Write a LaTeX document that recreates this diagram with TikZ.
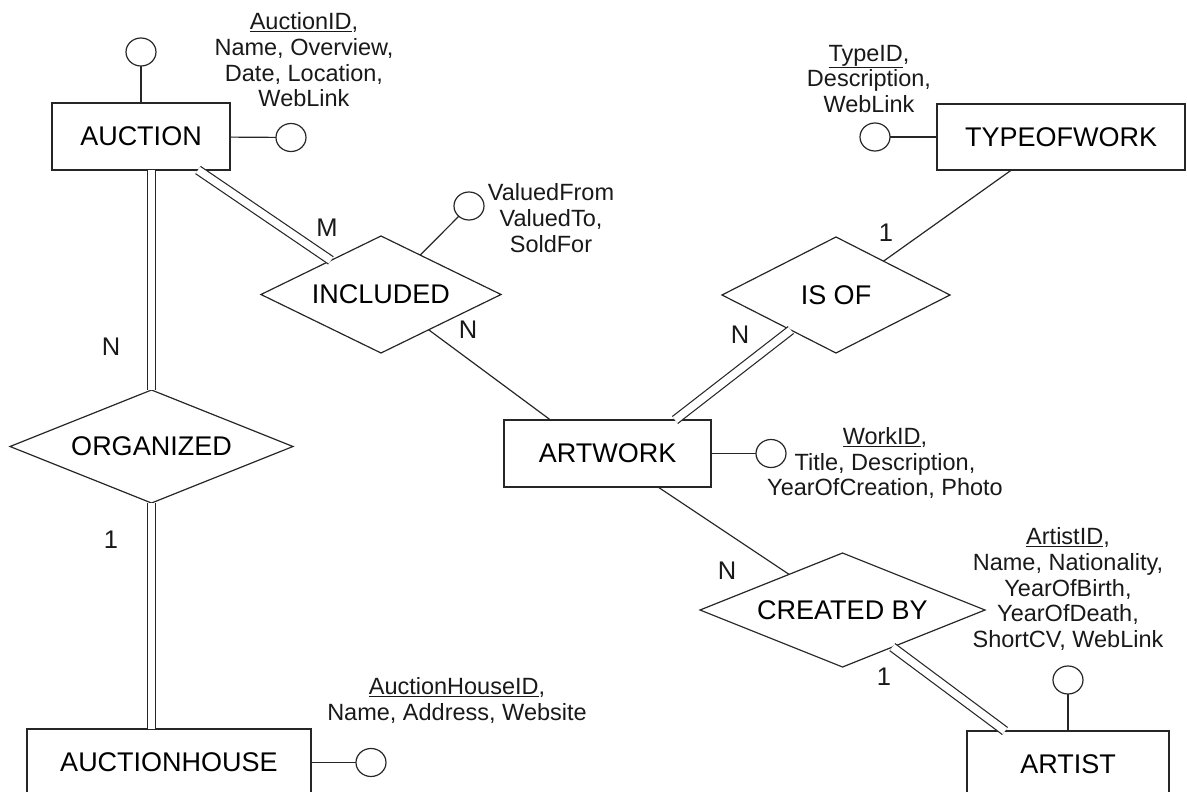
\documentclass[tikz,border=0pt]{standalone}
\usepackage{fontspec}
\setmainfont{Liberation Sans}
\usetikzlibrary{shapes.geometric}
\tikzset{
  ln/.style={line width=1.2pt, draw=black!85},
  dbl/.style={ln, double=white, double distance=7.5pt},
  ent/.style={ln, rectangle, inner sep=0pt, outer sep=0pt, font=\fontsize{27}{30}\selectfont},
  rel/.style={ln, diamond, aspect=2, inner sep=0pt, outer sep=0pt, font=\fontsize{27}{30}\selectfont},
  att/.style={ln, ellipse, inner sep=0pt, outer sep=0pt, minimum width=30pt, minimum height=28pt},
  atxt/.style={align=center, inner sep=0pt, font=\fontsize{23.5}{25.7}\selectfont, text=black!90},
  card/.style={inner sep=0pt, font=\fontsize{25.5}{28}\selectfont, text=black!90}
}
\begin{document}
\begin{tikzpicture}[x=1pt,y=-1pt]
\useasboundingbox (0,0) rectangle (1187,792);
\clip (0,0) rectangle (1187,792);
% entities
\node[ent, minimum width=178pt, minimum height=67pt] (auction) at (141,136.5) {AUCTION};
\node[ent, minimum width=248pt, minimum height=66pt] (typeofwork) at (1061,137) {TYPEOFWORK};
\node[ent, minimum width=207pt, minimum height=67pt] (artwork) at (607.5,453.5) {ARTWORK};
\node[ent, minimum width=284pt, minimum height=67pt] (auctionhouse) at (169,762.5) {AUCTIONHOUSE};
\node[ent, minimum width=202pt, minimum height=67pt] (artist) at (1068,764.5) {ARTIST};
% relationships
\node[rel, minimum width=240pt, minimum height=117pt] (included) at (381,294.5) {INCLUDED};
\node[rel, minimum width=228pt, minimum height=116pt] (isof) at (836,295) {IS OF};
\node[rel, minimum width=283pt, minimum height=113pt] (organized) at (151.5,446.5) {ORGANIZED};
\node[rel, minimum width=285pt, minimum height=114pt] (createdby) at (842.5,610) {CREATED BY};
% attribute circles
\node[att] (a1) at (141,52) {};
\node[att] (a2) at (291,137.5) {};
\node[att] (a3) at (875,137) {};
\node[att] (a4) at (469,206) {};
\node[att] (a5) at (771,453.5) {};
\node[att] (a6) at (371,762.5) {};
\node[att] (a7) at (1068,680) {};
% attribute texts
\node[atxt] (t1) at (304,60) {\underline{AuctionID},\\Name, Overview,\\Date, Location,\\WebLink};
\node[atxt] (t2) at (869,79) {\underline{TypeID},\\Description,\\WebLink};
\node[atxt] (t3) at (551,218) {ValuedFrom\\ValuedTo,\\SoldFor};
\node[atxt] (t4) at (885,463) {\underline{WorkID},\\Title, Description,\\YearOfCreation, Photo};
\node[atxt] (t5) at (1068,589) {\underline{ArtistID},\\Name, Nationality,\\YearOfBirth,\\YearOfDeath,\\ShortCV, WebLink};
\node[atxt] (t6) at (457,700.5) {\underline{AuctionHouseID},\\Name, Address, Website};
% attribute links
\draw[ln] (auction) -- (a1);
\draw[ln] (auction) -- (a2);
\draw[ln] (typeofwork) -- (a3);
\draw[ln] (included) -- (a4);
\draw[ln] (artwork) -- (a5);
\draw[ln] (auctionhouse) -- (a6);
\draw[ln] (artist) -- (a7);
% relationship links
\draw[dbl] (organized.north) -- (organized.north |- auction.south);
\draw[dbl] (organized.south) -- (organized.south |- auctionhouse.north);
\draw[dbl] ([xshift=57pt]auction.south) -- (included);
\draw[ln] (included) -- ([xshift=-57pt]artwork.north);
\draw[ln] ([xshift=-49.5pt]typeofwork.south) -- (isof);
\draw[dbl] (isof) -- ([xshift=67.5pt]artwork.north);
\draw[ln] ([xshift=50.5pt]artwork.south) -- (createdby);
\draw[dbl] (createdby) -- ([xshift=-63pt]artist.north);
% cardinalities
\node[card] (m1) at (327,228) {M};
\node[card] (n1) at (468,330) {N};
\node[card] (n2) at (111,347) {N};
\node[card] (o1) at (111,540) {1};
\node[card] (o2) at (886,233) {1};
\node[card] (n3) at (740,335) {N};
\node[card] (n4) at (727,571) {N};
\node[card] (o3) at (884,677) {1};
\end{tikzpicture}
\end{document}
